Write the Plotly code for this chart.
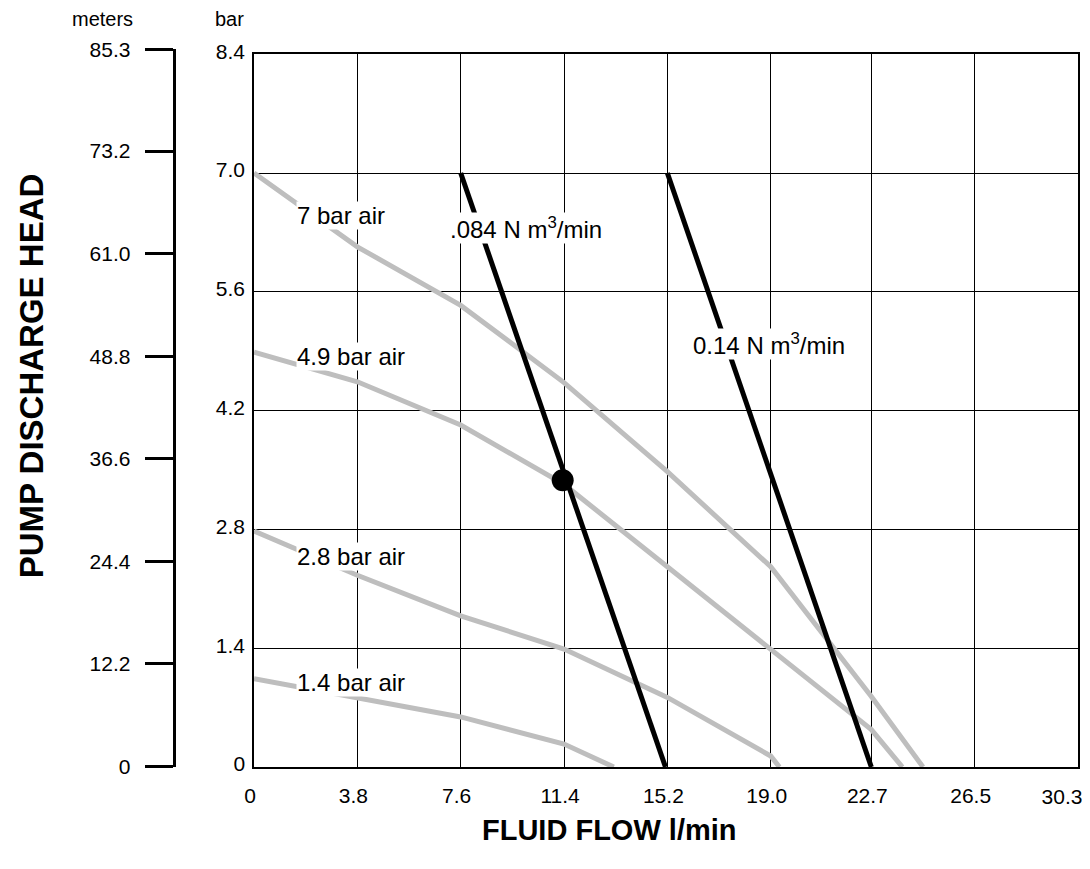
import plotly.graph_objects as go

# ---------------- data ----------------
flow_ticks = [0, 3.8, 7.6, 11.4, 15.2, 19.0, 22.7, 26.5, 30.3]
flow_labels = ["0", "3.8", "7.6", "11.4", "15.2", "19.0", "22.7", "26.5", "30.3"]
bar_ticks = [0, 1.4, 2.8, 4.2, 5.6, 7.0, 8.4]
bar_labels = ["0", "1.4", "2.8", "4.2", "5.6", "7.0", "8.4"]
meter_ticks = [0, 12.2, 24.4, 36.6, 48.8, 61.0, 73.2, 85.3]
meter_labels = ["0", "12.2", "24.4", "36.6", "48.8", "61.0", "73.2", "85.3"]

air7_flow = [0, 3.8, 7.6, 11.4, 15.2, 19.0, 22.7, 24.6]
air7_head = [7.0, 6.13, 5.44, 4.53, 3.48, 2.36, 0.83, 0]
air49_flow = [0, 3.8, 7.6, 11.4, 15.2, 19.0, 22.7, 23.84]
air49_head = [4.89, 4.54, 4.03, 3.33, 2.36, 1.38, 0.44, 0]
air28_flow = [0, 3.8, 7.6, 11.4, 15.2, 19.0, 19.32]
air28_head = [2.78, 2.26, 1.78, 1.39, 0.82, 0.13, 0]
air14_flow = [0, 3.8, 7.6, 11.4, 13.23]
air14_head = [1.04, 0.82, 0.59, 0.27, 0]

cons084_flow = [7.6, 15.13]
cons084_head = [7.0, 0]
cons14_flow = [15.2, 22.7]
cons14_head = [7.0, 0]

point_flow = [11.35]
point_head = [3.38]

curve_labels = ["7 bar air", "4.9 bar air", "2.8 bar air", "1.4 bar air"]
curve_label_x = [1.55, 1.55, 1.53, 1.56]
curve_label_y = [6.50, 4.835, 2.48, 0.99]
cons_labels = [".084 N m<sup>3</sup>/min", "0.14 N m<sup>3</sup>/min"]
cons_label_x = [7.17, 16.11]
cons_label_y = [6.35, 4.99]

# ---------------- layout geometry ----------------
OFF = 8                      # page body margin of the html page
W, H = 1090 - OFF, 869 - OFF
PLOT_L, PLOT_R, PLOT_B = 254.7, 1082.3, 767.0   # page pixel positions
L = 100 - OFF
R = W - (PLOT_R - OFF)
B = H - (PLOT_B - OFF)
T = 40 - OFF
PW, PH = W - L - R, H - T - B


def fx(px):
    return (px - OFF - L) / PW


def fy(py):
    return (H - B - (py - OFF)) / PH


FONT = "Liberation Sans, Arial, Helvetica, sans-serif"
GRAY = "#bebebe"

fig = go.Figure()

for fl, hd in [(air7_flow, air7_head), (air49_flow, air49_head),
               (air28_flow, air28_head), (air14_flow, air14_head)]:
    fig.add_trace(go.Scatter(x=fl, y=hd, mode="lines",
                             line=dict(color=GRAY, width=5),
                             hoverinfo="skip", showlegend=False))

for fl, hd in [(cons084_flow, cons084_head), (cons14_flow, cons14_head)]:
    fig.add_trace(go.Scatter(x=fl, y=hd, mode="lines",
                             line=dict(color="black", width=5),
                             hoverinfo="skip", showlegend=False))

fig.add_trace(go.Scatter(x=point_flow, y=point_head, mode="markers",
                         marker=dict(color="black", size=22),
                         hoverinfo="skip", showlegend=False))

# helper traces so the meters axis and the extra x-label axis are drawn
fig.add_trace(go.Scatter(x=[0], y=[0], xaxis="x2", yaxis="y2", mode="markers",
                         marker=dict(opacity=0), hoverinfo="skip", showlegend=False))
fig.add_trace(go.Scatter(x=[0], y=[0], xaxis="x3", yaxis="y", mode="markers",
                         marker=dict(opacity=0), hoverinfo="skip", showlegend=False))

tickfont = dict(family=FONT, size=21, color="black")

fig.update_layout(
    width=W, height=H,
    margin=dict(l=L, r=R, t=T, b=B, pad=0),
    paper_bgcolor="white", plot_bgcolor="white",
    showlegend=False,
    xaxis=dict(domain=[fx(PLOT_L), 1], range=[0, 30.3],
               tickvals=flow_ticks[:-1], ticktext=flow_labels[:-1],
               showgrid=True, gridcolor="black", gridwidth=1.2,
               showline=True, mirror=True, linecolor="black", linewidth=1.5,
               zeroline=False, ticks="", ticklen=0, tickfont=tickfont,
               ticklabelstandoff=9, ticklabelshift=-4),
    xaxis3=dict(overlaying="x", range=[0, 30.3], anchor="y", side="bottom",
                tickvals=flow_ticks[-1:], ticktext=flow_labels[-1:],
                showgrid=False, showline=False, zeroline=False, ticks="",
                ticklen=0, tickfont=tickfont, ticklabelstandoff=15,
                ticklabelshift=-16),
    yaxis=dict(domain=[0, fy(54.2)], range=[0, 8.4],
               tickvals=bar_ticks, ticktext=bar_labels,
               showgrid=True, gridcolor="black", gridwidth=1.2,
               showline=True, mirror=True, linecolor="black", linewidth=1.5,
               zeroline=False, ticks="", ticklen=0, tickfont=tickfont,
               ticklabelstandoff=3, ticklabelshift=-3),
    xaxis2=dict(domain=[0, 0.01], visible=False, anchor="y2"),
    yaxis2=dict(domain=[fy(766.5), fy(49.3)], range=[0, 85.3],
                anchor="free", position=fx(174), side="left",
                tickvals=meter_ticks, ticktext=meter_labels,
                showgrid=False, zeroline=False,
                showline=True, linecolor="black", linewidth=3,
                ticks="outside", ticklen=28, tickwidth=3, tickcolor="black",
                tickfont=tickfont, ticklabelstandoff=10),
)

annotations = []
for txt, x, y in zip(curve_labels, curve_label_x, curve_label_y):
    annotations.append(dict(x=x, y=y, xref="x", yref="y", text=txt,
                            showarrow=False, xanchor="left", yanchor="middle",
                            bgcolor="white", borderpad=0,
                            font=dict(family=FONT, size=24, color="black")))
for txt, x, y in zip(cons_labels, cons_label_x, cons_label_y):
    annotations.append(dict(x=x, y=y, xref="x", yref="y", text=txt,
                            showarrow=False, xanchor="left", yanchor="middle",
                            bgcolor="white", borderpad=0,
                            font=dict(family=FONT, size=24, color="black")))

annotations += [
    dict(x=fx(103), y=fy(19), xref="paper", yref="paper", text="meters",
         showarrow=False, xanchor="center", yanchor="middle",
         font=dict(family=FONT, size=20, color="black")),
    dict(x=fx(230), y=fy(19), xref="paper", yref="paper", text="bar",
         showarrow=False, xanchor="center", yanchor="middle",
         font=dict(family=FONT, size=20, color="black")),
    dict(x=fx(31), y=fy(376), xref="paper", yref="paper",
         text="<b>PUMP DISCHARGE HEAD</b>", textangle=-90,
         showarrow=False, xanchor="center", yanchor="middle",
         font=dict(family=FONT, size=33, color="black")),
    dict(x=fx(612), y=fy(830), xref="paper", yref="paper",
         text="<b>FLUID FLOW l/min</b>",
         showarrow=False, xanchor="center", yanchor="middle",
         font=dict(family=FONT, size=29, color="black")),
]
fig.update_layout(annotations=annotations)

fig.write_html("out.html")
